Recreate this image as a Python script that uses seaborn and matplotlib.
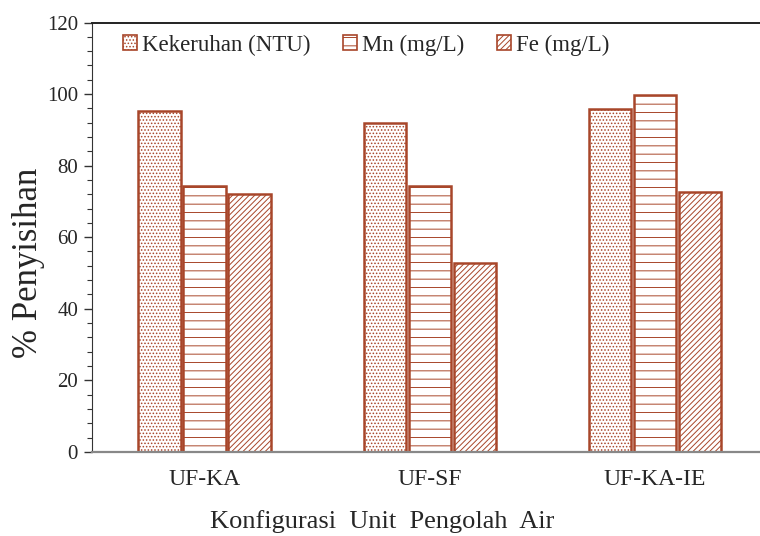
import pandas as pd
import matplotlib
matplotlib.use('Agg')
import matplotlib.pyplot as plt
from matplotlib.patches import Patch
from matplotlib.ticker import MultipleLocator
import seaborn as sns

# data
configs = ['UF-KA', 'UF-SF', 'UF-KA-IE']
params = ['Kekeruhan (NTU)', 'Mn (mg/L)', 'Fe (mg/L)']
kekeruhan = [95.2, 92.0, 95.9]
mn = [74.4, 74.2, 99.8]
fe = [72.2, 52.9, 72.5]

df = pd.DataFrame({
    'Konfigurasi': configs * 3,
    'Parameter': [params[0]] * 3 + [params[1]] * 3 + [params[2]] * 3,
    'Penyisihan': kekeruhan + mn + fe,
})

sns.set_style('white')
plt.rcParams['font.family'] = ['Liberation Serif', 'DejaVu Serif']
plt.rcParams['hatch.linewidth'] = 0.7

brown = '#A8462A'
hatches = ['.....', '--', '//////']

fig = plt.figure(figsize=(7.6, 5.36), dpi=100)
ax = fig.add_axes([0.121, 0.157, 0.889, 0.801])

sns.barplot(data=df, x='Konfigurasi', y='Penyisihan', hue='Parameter',
            order=configs, hue_order=params, palette=['white'] * 3,
            width=0.6, gap=0.06, edgecolor=brown, linewidth=1.8,
            legend=False, ax=ax)

for cont, h in zip(ax.containers, hatches):
    for bar in cont:
        bar.set_hatch(h)

ax.set_xlim(-0.5, 2.5)
ax.set_ylim(0, 120)
ax.yaxis.set_major_locator(MultipleLocator(20))
ax.yaxis.set_minor_locator(MultipleLocator(4))
ax.tick_params(axis='y', which='major', direction='out', length=6, width=1,
               color='#333333', labelsize=15, left=True, pad=4)
ax.tick_params(axis='y', which='minor', direction='out', length=3.5, width=0.8,
               color='#333333', left=True)
ax.tick_params(axis='x', length=0, labelsize=17, pad=12)

ax.set_xlabel('Konfigurasi  Unit  Pengolah  Air', fontsize=19)
ax.xaxis.set_label_coords(0.43, -0.135)
ax.set_ylabel('% Penyisihan', fontsize=25)
ax.yaxis.set_label_coords(-0.07, 0.44)

ax.spines['right'].set_visible(False)
ax.spines['left'].set_color('#333333')
ax.spines['top'].set_color('#222222')
ax.spines['top'].set_linewidth(1.4)
ax.spines['bottom'].set_color('#888888')
ax.spines['bottom'].set_linewidth(1.6)

handles = [Patch(facecolor='white', edgecolor=brown, hatch=h, linewidth=1.2)
           for h in hatches]
ax.legend(handles, params, loc='upper left', bbox_to_anchor=(0.016, 1.02),
          ncol=3, frameon=False, fontsize=16.5, handlelength=0.6,
          handleheight=0.6, handletextpad=0.2, columnspacing=1.45)

fig.savefig('out.png', dpi=100)
